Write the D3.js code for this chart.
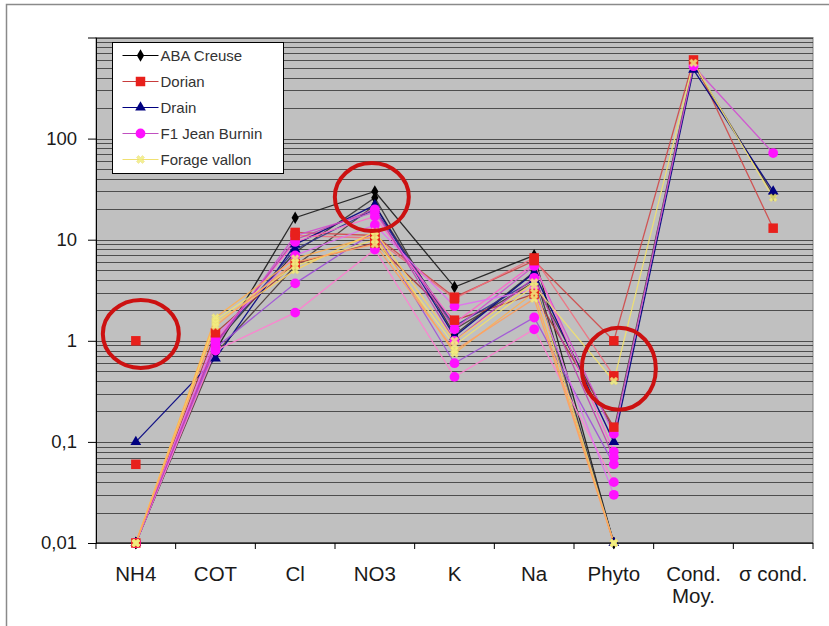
<!DOCTYPE html>
<html>
<head>
<meta charset="utf-8">
<script src="https://cdn.jsdelivr.net/npm/d3@7"></script>
<style>
  html, body { margin: 0; padding: 0; background: #fff; }
  svg { display: block; font-family: "Liberation Sans", Arial, sans-serif; }
</style>
</head>
<body>
<svg id="chart" width="829" height="626"></svg>
<script>
// Parameters measured at each station (log scale, mg/L or µS/cm)
const categories = ["NH4", "COT", "Cl", "NO3", "K", "Na", "Phyto", "Cond. Moy.", "σ cond."];
const yTicks = [0.01, 0.1, 1, 10, 100];

// One array per sample, values in category order (null = not measured)
const abaCreuse = [
  [0.01, 0.8, 16.5, 30, 3.4, 7.0, 0.01, null, null],
  [0.01, 0.95, 7.5, 26, 1.15, 4.8, 0.01, null, null],
  [0.01, 0.75, 5.5, 22, 1.3, 3.8, 0.13, 540, 28]
];
const dorian = [
  [1.0, null, 11.8, 11, 2.7, 6.2, 1.0, 600, 13],
  [0.06, null, 11, 10.4, 2.6, 6.6, 0.45, null, null],
  [0.01, 1.2, 5.8, 9.3, 1.6, 2.9, 0.14, null, null]
];
const drain = [
  [0.1, 0.67, 9, 22, 1.1, 4.7, 0.1, 480, 30],
  [0.01, 0.97, 8, 20, 1.4, 4.0, 0.01, null, null]
];
const f1JeanBurnin = [
  [0.01, 0.9, 11, 18.7, 1.3, 5.5, 0.12, 520, 72],
  [0.01, 1.0, 9.5, 17, 1.5, 5.8, 0.08, null, null],
  [0.01, 0.85, 3.7, 12, 0.6, 1.7, 0.06, null, null],
  [0.01, 0.8, 1.9, 8, 0.44, 1.3, 0.04, null, null],
  [0.01, 1.1, 7, 14, 2.2, 3.2, 0.03, null, null],
  [0.01, 0.95, 10, 20, 1.0, 4.2, 0.07, null, null]
];
const forageVallon = [
  [0.01, 1.6, 5.5, 10, 0.9, 3.5, 0.4, 560, 26],
  [0.01, 1.7, 6.5, 11, 0.75, 3.0, 0.01, null, null],
  [0.01, 1.5, 5.0, 12, 1.0, 3.8, 0.01, null, null],
  [0.01, 1.4, 6, 9, 0.8, 2.6, 0.01, null, null]
];

const seriesNames = ["ABA Creuse", "Dorian", "Drain", "F1 Jean Burnin", "Forage vallon"];
const seriesData = [abaCreuse, dorian, drain, f1JeanBurnin, forageVallon];
const markerColors = ["#000000", "#e8201c", "#000080", "#ff10ff", "#f2ee80"];
const legendLineColors = ["#000000", "#c83c3c", "#000080", "#c050c0", "#f0e070"];
const lineColors = [
  ["#1a1a1a", "#333333", "#4a3a3a"],
  ["#d04848", "#ee7080", "#a83838"],
  ["#000080", "#303090"],
  ["#d050d0", "#ff66cc", "#a050d8", "#ff80d0", "#e070f0", "#c040b0"],
  ["#f0e070", "#ffb050", "#f8d060", "#ffa060"]
];
const markerSymbols = [d3.symbolDiamond, d3.symbolSquare, d3.symbolTriangle, d3.symbolCircle, d3.symbolCross];
const markerSizes = [45, 90, 50, 75, 40];

const svg = d3.select("#chart");
const margin = { left: 96, top: 37.5, right: 813, bottom: 543 };

// outer frame
svg.append("path")
  .attr("d", "M6.5,626 V4.5 H829")
  .attr("fill", "none").attr("stroke", "#8a8a8a").attr("stroke-width", 1.5);

const x = d3.scaleBand().domain(categories).range([margin.left, margin.right]).paddingInner(0).paddingOuter(0);
const y = d3.scaleLog().domain([0.01, 1000]).range([margin.bottom, margin.top]);

// plot background
svg.append("rect")
  .attr("x", margin.left).attr("y", margin.top)
  .attr("width", margin.right - margin.left).attr("height", margin.bottom - margin.top)
  .attr("fill", "#c0c0c0").attr("stroke", "#808080").attr("stroke-width", 1);

// log gridlines: every 1..9 multiple of each decade
const gridVals = [];
for (let e = -2; e < 3; e++) for (let m = 1; m <= 9; m++) gridVals.push(m * Math.pow(10, e));
gridVals.push(1000);
svg.append("g").selectAll("line").data(gridVals).join("line")
  .attr("x1", margin.left).attr("x2", margin.right)
  .attr("y1", d => Math.round(y(d)) + 0.5).attr("y2", d => Math.round(y(d)) + 0.5)
  .attr("stroke", "#3a3a3a").attr("stroke-width", 1).attr("opacity", 0.85);

// axes
const yAxis = d3.axisLeft(y).tickValues(yTicks).tickSize(8)
  .tickFormat(d => String(d).replace(".", ","));
svg.append("g").attr("transform", `translate(${margin.left},0)`).call(yAxis)
  .call(g => g.select(".domain").attr("stroke", "#000"))
  .call(g => g.selectAll("text").attr("font-size", 18.5).attr("fill", "#1a1a1a")
    .attr("font-family", "Liberation Sans, Arial, sans-serif").attr("x", -19));

const xAxisG = svg.append("g").attr("transform", `translate(0,${margin.bottom})`);
xAxisG.append("line").attr("x1", margin.left).attr("x2", margin.right)
  .attr("stroke", "#000").attr("stroke-width", 1);
const bounds = categories.map(c => x(c)).concat([margin.right]);
xAxisG.selectAll("line.tick").data(bounds).join("line").attr("class", "tick")
  .attr("x1", d => d).attr("x2", d => d).attr("y1", 0).attr("y2", 6)
  .attr("stroke", "#000");
xAxisG.selectAll("text").data(categories).join("text")
  .attr("x", d => x(d) + x.bandwidth() / 2).attr("y", 38)
  .attr("text-anchor", "middle").attr("font-size", 20.5).attr("fill", "#1a1a1a")
  .each(function (d) {
    const parts = d === "Cond. Moy." ? ["Cond.", "Moy."] : [d];
    d3.select(this).selectAll("tspan").data(parts).join("tspan")
      .attr("x", x(d) + x.bandwidth() / 2).attr("dy", (p, i) => i === 0 ? 0 : 22).text(p => p);
  });

const cx = c => x(c) + x.bandwidth() / 2;
const line = d3.line()
  .defined(d => d.v !== null)
  .x(d => cx(d.c)).y(d => y(d.v));

// sample lines
const linesG = svg.append("g");
seriesData.forEach((samples, si) => {
  samples.forEach((vals, k) => {
    const pts = vals.map((v, i) => ({ c: categories[i], v }));
    linesG.append("path").datum(pts)
      .attr("d", line)
      .attr("fill", "none")
      .attr("stroke", lineColors[si][k % lineColors[si].length])
      .attr("stroke-width", 1.3).attr("opacity", 0.9);
  });
});

// markers
function marker(g, si, px, py) {
  const sym = d3.symbol().type(markerSymbols[si]).size(markerSizes[si]);
  const p = g.append("path").attr("d", sym()).attr("transform", `translate(${px},${py})` + (si === 4 ? " rotate(45)" : ""));
  p.attr("fill", markerColors[si]);
  if (si === 4) p.attr("stroke", "#e8d870").attr("stroke-width", 0.5).attr("opacity", 0.85);
}
const marksG = svg.append("g");
[0, 2, 3, 1, 4].forEach(si => {
  seriesData[si].forEach(vals => {
    vals.forEach((v, i) => {
      if (v === null) return;
      marker(marksG, si, cx(categories[i]), y(v));
    });
  });
});

// highlight rings
const rings = [
  { c: "NH4", v: 1.17, dx: 5, rx: 38, ry: 34 },
  { c: "NO3", v: 26.4, dx: -3, rx: 37, ry: 34 },
  { c: "Phyto", v: 0.53, dx: 5, rx: 37, ry: 41 }
];
svg.append("g").selectAll("ellipse").data(rings).join("ellipse")
  .attr("cx", d => cx(d.c) + d.dx).attr("cy", d => y(d.v))
  .attr("rx", d => d.rx).attr("ry", d => d.ry)
  .attr("fill", "none").attr("stroke", "#cc1111").attr("stroke-width", 4);

// legend
const lg = svg.append("g").attr("transform", "translate(112.5,42.5)");
lg.append("rect").attr("width", 171).attr("height", 131)
  .attr("fill", "#fff").attr("stroke", "#000").attr("stroke-width", 1);
seriesNames.forEach((name, i) => {
  const yy = 13 + i * 26;
  lg.append("line").attr("x1", 10).attr("x2", 46).attr("y1", yy).attr("y2", yy)
    .attr("stroke", legendLineColors[i]).attr("stroke-width", 1);
  marker(lg, i, 28, yy);
  lg.append("text").attr("x", 48).attr("y", yy + 5).attr("font-size", 15)
    .attr("fill", "#333").text(name);
});
</script>
</body>
</html>
